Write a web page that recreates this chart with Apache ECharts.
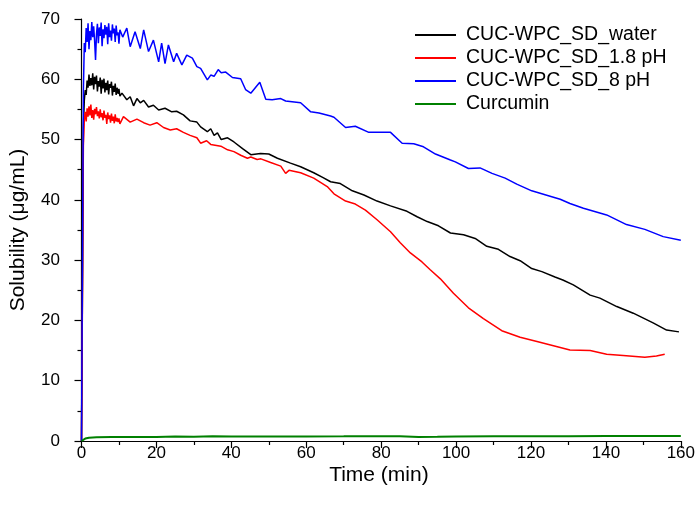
<!DOCTYPE html>
<html>
<head>
<meta charset="utf-8">
<script src="https://cdn.jsdelivr.net/npm/echarts@6/dist/echarts.min.js"></script>
<style>html,body{margin:0;padding:0;background:#fff;}#c{width:698px;height:507px;}</style>
</head>
<body>
<div id="c"></div>
<script>
var seriesNames = ['CUC-WPC_SD_water', 'CUC-WPC_SD_1.8 pH', 'CUC-WPC_SD_8 pH', 'Curcumin'];
var xTickLabels = [0, 20, 40, 60, 80, 100, 120, 140, 160];
var xMinorTicks = [10, 30, 50, 70, 90, 110, 130, 150];

var waterData = [[0,0],[0.3,30],[0.5,52],[0.75,56.5],[1,58.2],[1.25,57.4],[1.5,59.8],[1.75,58.6],[2,60.8],[2.25,58.9],[2.5,60.2],[2.75,59.0],[3,61.0],[3.25,58.3],[3.5,60.4],[3.75,59.2],[4,60.6],[4.25,58.0],[4.5,59.7],[4.75,58.8],[5,60.3],[5.25,57.6],[5.5,59.9],[5.75,58.5],[6,60.1],[6.25,57.8],[6.5,59.4],[6.75,58.2],[7,59.8],[7.25,57.5],[7.5,59.2],[7.75,58.6],[8,59.6],[8.25,57.3],[8.5,58.9],[8.75,57.9],[9,59.3],[9.25,57.4],[9.5,58.6],[9.75,57.6],[10,58.4],[10.25,57.2],[10.8,57.7],[12.1,56.6],[13,57.1],[13.9,55.6],[14.8,56.8],[15.7,56.1],[16.6,56.5],[17.9,55.4],[19.2,55.7],[20.6,54.9],[22.3,55.2],[24.1,54.6],[25.4,54.7],[27.2,54.1],[29,53.1],[30.8,52.9],[31.8,52.1],[33.6,51.3],[34.5,51.8],[35.4,50.7],[36.3,51.1],[37.3,50.0],[39,50.3],[40.7,49.6],[43,48.5],[45.2,47.5],[47.8,47.7],[50,47.6],[52.3,46.9],[55.8,46.1],[58.5,45.5],[62,44.5],[64.5,43.7],[66.5,43.0],[69.1,42.7],[72.3,41.5],[75.4,40.8],[78.9,39.8],[82.5,39.0],[86.9,38.1],[89.6,37.2],[92.3,36.4],[95.3,35.7],[98.5,34.5],[102,34.2],[105.1,33.6],[108.2,32.3],[111.3,31.8],[114.4,30.6],[117.1,29.9],[120.2,28.6],[122.9,28.1],[126.4,27.2],[128.5,26.7],[131.3,25.9],[135.8,24.2],[138.4,23.7],[142.9,22.3],[147.3,21.2],[152.6,19.6],[156.2,18.4],[159.5,18.1]];

var acidData = [[0,0],[0.3,28],[0.5,49],[0.75,53.2],[1,54.6],[1.25,53.0],[1.5,55.2],[1.75,53.8],[2,55.5],[2.25,54.0],[2.5,55.8],[2.75,53.6],[3,54.9],[3.25,53.3],[3.5,55.1],[3.75,54.2],[4,55.4],[4.25,53.9],[4.5,54.7],[4.75,53.5],[5,55.0],[5.25,53.7],[5.5,54.4],[5.75,53.2],[6,54.8],[6.25,53.6],[6.5,54.1],[6.75,52.6],[7,54.5],[7.25,53.4],[7.5,54.0],[7.75,52.8],[8,54.3],[8.25,53.1],[8.5,53.8],[8.75,52.7],[9,54.2],[9.25,53.0],[9.5,53.6],[9.75,52.9],[10,53.5],[10.25,52.6],[11.2,53.8],[13,52.9],[14.8,53.4],[16.6,52.8],[18.3,52.4],[20.1,52.8],[21.9,52.0],[23.7,51.6],[25.4,51.8],[27.2,51.2],[29,50.7],[30.8,50.3],[31.8,49.4],[33.4,49.8],[34.5,49.2],[37.2,48.9],[39,48.3],[40.7,48.0],[42.5,47.4],[44.3,46.9],[45.2,47.1],[46.9,46.7],[47.9,46.8],[50.5,46.2],[53.2,45.6],[54.5,44.4],[55.4,44.9],[58.5,44.5],[62,43.6],[63.8,42.9],[65.6,42.2],[67.4,41.0],[70.5,39.8],[73.1,39.3],[75.8,38.3],[78.9,36.7],[82.5,34.7],[85.1,32.9],[87.8,31.2],[90.9,29.7],[93.1,28.4],[95.8,26.9],[99.3,24.5],[103.3,22.1],[107.3,20.3],[112.2,18.3],[117.1,17.2],[121.6,16.5],[126,15.8],[130.4,15.1],[135.8,15.0],[140.2,14.4],[144.6,14.2],[150.4,13.9],[153.5,14.1],[155.7,14.4]];

var basicData = [[0,0],[0.3,35],[0.5,58],[0.75,66.0],[1,64.5],[1.25,68.5],[1.5,66.2],[1.75,69.3],[2,65.0],[2.25,68.0],[2.5,66.5],[2.75,69.5],[3,67.0],[3.25,68.8],[3.5,66.4],[3.75,63.2],[4,67.5],[4.25,69.2],[4.5,66.0],[4.75,68.6],[5,67.2],[5.25,69.4],[5.5,65.5],[5.75,68.3],[6,66.8],[6.25,69.0],[6.5,67.4],[6.75,68.7],[7,65.8],[7.25,69.3],[7.5,67.0],[7.75,68.1],[8,66.4],[8.25,69.1],[8.5,67.6],[8.75,68.4],[9,66.2],[9.25,68.9],[9.5,67.3],[9.75,67.8],[10,65.9],[10.25,68.2],[11,67.0],[12.1,68.5],[13,65.4],[14.3,67.9],[15.7,65.1],[16.6,68.2],[17.9,64.6],[19.2,66.5],[20.6,62.9],[21.4,66.0],[22.3,62.6],[23.2,65.7],[24.6,62.9],[25.4,64.3],[26.8,62.4],[28.1,64.0],[29.6,63.5],[30.8,62.1],[31.8,61.8],[33.6,59.9],[34.5,60.7],[35.4,60.5],[36.5,61.6],[37.3,61.1],[38.5,61.2],[40.3,60.3],[42.5,60.1],[43.8,58.3],[45.2,57.7],[47.6,59.5],[49.2,56.7],[50.9,56.6],[53.2,56.8],[54.5,56.4],[58.5,56.1],[61.2,54.6],[63.4,54.4],[66.5,53.9],[67.4,53.7],[70.5,52.0],[73.1,52.2],[76.7,51.2],[82.5,51.2],[85.6,49.4],[88.7,49.3],[91.3,48.8],[94.5,47.6],[98.5,46.6],[99.8,46.3],[103.3,45.2],[106.4,45.3],[109.6,44.4],[113.1,43.6],[116.2,42.6],[120.2,41.5],[125.1,40.6],[127.8,40.1],[130.4,39.4],[134,38.6],[140.2,37.5],[145.5,35.9],[150.4,35.1],[155.3,33.9],[160,33.3]];

var curcuminData = [[0,0],[0.5,0.2],[1,0.4],[2,0.55],[4,0.62],[8,0.65],[15,0.68],[20,0.66],[25,0.75],[30,0.72],[35,0.78],[40,0.76],[50,0.74],[60,0.75],[70,0.77],[80,0.8],[85,0.78],[90,0.68],[95,0.7],[100,0.75],[110,0.78],[120,0.8],[130,0.8],[140,0.82],[150,0.83],[160,0.85]];

var FONT = '"Liberation Sans", Arial, sans-serif';
var chart = echarts.init(document.getElementById('c'), null, {renderer: 'canvas'});

function lineSeries(name, data, color, width) {
  return {
    name: name, type: 'line', xAxisIndex: 0, yAxisIndex: 0,
    data: data, symbol: 'none', showSymbol: false,
    lineStyle: {color: color, width: width}, itemStyle: {color: color},
    animation: false, z: 3
  };
}

chart.setOption({
  animation: false,
  backgroundColor: '#ffffff',
  grid: {left: 76, right: 17, top: 19, bottom: 66, containLabel: false},
  legend: {
    orient: 'vertical', left: 410, top: 20, itemWidth: 41, itemHeight: 2, itemGap: 3,
    symbolKeepAspect: false,
    icon: 'path://M0,0 H41 V2 H0 Z',
    textStyle: {fontFamily: FONT, fontSize: 19.5, color: '#000', padding: [0, 0, 0, 5]},
    data: seriesNames,
    selectedMode: false
  },
  xAxis: [{
    type: 'value', min: -1.2, max: 160, gridIndex: 0,
    name: 'Time (min)', nameLocation: 'middle', nameGap: 24, nameMoveOverlap: false,
    nameTextStyle: {fontFamily: FONT, fontSize: 21, color: '#000'},
    axisLine: {show: true, onZero: false, lineStyle: {color: '#000', width: 1.2}},
    axisTick: {show: true, length: 7, lineStyle: {color: '#000', width: 1.2}, customValues: xTickLabels},
    axisLabel: {fontFamily: FONT, fontSize: 17, color: '#000', margin: 4, customValues: xTickLabels},
    splitLine: {show: false}
  }, {
    type: 'value', min: -1.2, max: 160, gridIndex: 0, position: 'bottom',
    axisLine: {show: false},
    axisTick: {show: true, length: 4, lineStyle: {color: '#000', width: 1.2}, customValues: xMinorTicks},
    axisLabel: {show: false},
    splitLine: {show: false}
  }],
  yAxis: {
    type: 'value', min: 0, max: 70, interval: 10,
    name: 'Solubility (\u03bcg/mL)', nameLocation: 'middle', nameGap: 48, nameMoveOverlap: false,
    nameTextStyle: {fontFamily: FONT, fontSize: 21, color: '#000'},
    axisLine: {show: true, lineStyle: {color: '#000', width: 1.2}},
    axisTick: {show: true, length: 7, lineStyle: {color: '#000', width: 1.2}},
    minorTick: {show: true, splitNumber: 2, length: 4, lineStyle: {color: '#000', width: 1.2}},
    axisLabel: {fontFamily: FONT, fontSize: 17, color: '#000', margin: 17},
    splitLine: {show: false}
  },
  series: [
    lineSeries(seriesNames[0], waterData, '#000000', 1.5),
    lineSeries(seriesNames[1], acidData, '#ff0000', 1.5),
    lineSeries(seriesNames[2], basicData, '#0000ff', 1.5),
    lineSeries(seriesNames[3], curcuminData, '#008000', 2)
  ]
});
</script>
</body>
</html>
